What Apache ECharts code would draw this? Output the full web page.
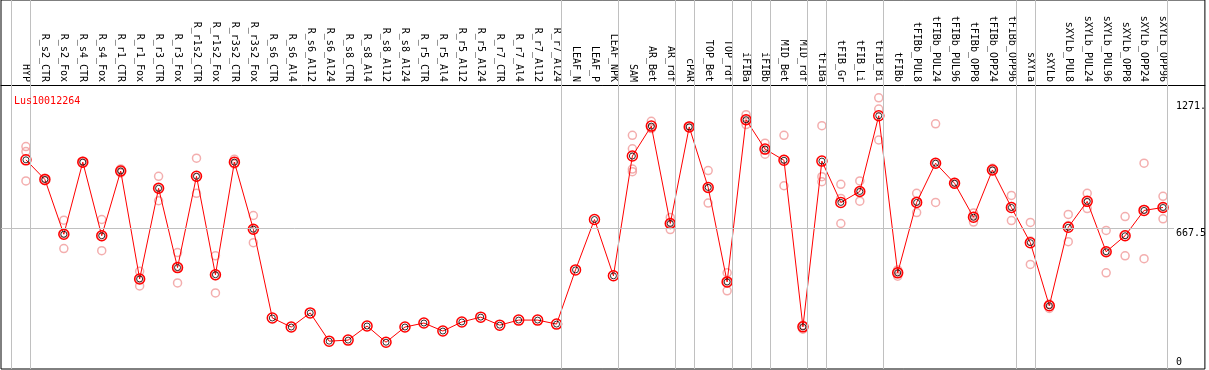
<!DOCTYPE html>
<html>
<head>
<meta charset="utf-8">
<script src="https://cdn.jsdelivr.net/npm/echarts@6/dist/echarts.min.js"></script>
<style>
html,body{margin:0;padding:0;background:#fff;}
#chart{width:1209px;height:370px;}
</style>
</head>
<body>
<div id="chart"></div>
<script>
const geneName = 'Lus10012264';
const categories = ['HYP','R_s2_CTR','R_s2_Fox','R_s4_CTR','R_s4_Fox','R_r1_CTR','R_r1_Fox','R_r3_CTR','R_r3_Fox','R_r1s2_CTR','R_r1s2_Fox','R_r3s2_CTR','R_r3s2_Fox','R_s6_CTR','R_s6_Al4','R_s6_Al12','R_s6_Al24','R_s8_CTR','R_s8_Al4','R_s8_Al12','R_s8_Al24','R_r5_CTR','R_r5_Al4','R_r5_Al12','R_r5_Al24','R_r7_CTR','R_r7_Al4','R_r7_Al12','R_r7_Al24','LEAF_N','LEAF_P','LEAF_NPK','SAM','AR_Bet','AR_rdf','cPAR','TOP_Bet','TOP_rdf','iFIBa','iFIBb','MID_Bet','MID_rdf','tFIBa','tFIB_Gr','tFIB_Li','tFIB_Bi','tFIBb','tFIBb_PUL8','tFIBb_PUL24','tFIBb_PUL96','tFIBb_OPP8','tFIBb_OPP24','tFIBb_OPP96','sXYLa','sXYLb','sXYLb_PUL8','sXYLb_PUL24','sXYLb_PUL96','sXYLb_OPP8','sXYLb_OPP24','sXYLb_OPP96'];

const means = [992,899,639,981,632,939,427,857,481,914,447,981,663,
  242,199,266,132,137,204,127,199,218,180,223,246,208,232,232,213,
  470,709,442,1010,1152,690,1148,861,413,1182,1043,990,200,986,790,842,1201,
  456,790,976,881,720,944,766,599,300,672,795,556,632,752,766];

const rep1 = [1055,905,706,985,709,949,463,914,552,1000,537,995,728,
  null,null,null,null,null,null,null,null,null,null,null,null,null,null,null,null,
  null,null,null,1108,1175,719,1152,941,456,1206,1071,1108,204,1154,876,892,1286,
  470,833,1163,885,740,952,823,695,305,733,833,657,723,976,819];
const rep2 = [892,893,571,977,561,930,394,798,408,833,361,971,599,
  null,null,null,null,null,null,null,null,null,null,null,null,null,null,null,null,
  null,null,null,948,1140,661,1144,787,371,1159,1019,869,189,888,690,796,1086,
  440,742,790,876,697,940,704,496,287,604,761,456,537,523,712];
const rep3 = [1031,899,641,981,628,938,426,858,484,909,442,976,661,
  null,null,null,null,null,null,null,null,null,null,null,null,null,null,null,null,
  null,null,null,1044,1142,690,1148,857,413,1182,1039,993,207,912,809,840,1233,
  458,795,974,882,723,941,771,607,308,680,790,557,637,757,767];
const rep4 = [null,null,null,null,null,null,null,null,null,null,null,null,null,
  null,null,null,null,null,null,null,null,null,null,null,null,null,null,null,null,
  null,null,null,936,null,null,null,null,null,null,null,null,null,null,null,null,null,
  null,null,null,null,null,null,null,null,null,null,null,null,null,null,null];

const yTickValues = [667.5, 1271];
const yTickLabels = ['667.5', '1271.'];
const separators = [-0.8,0.25,28.25,31.25,34.25,35.25,37.25,38.25,39.25,41.25,42.25,45.25,52.25,53.25,60.25];

const MONO = 'DejaVu Sans Mono';
const idx = categories.map((c, i) => i);
const meanData = means.map((v, i) => [i, v]);
const repData = [];
[rep1, rep2, rep3, rep4].forEach(arr => arr.forEach((v, i) => { if (v != null) repData.push([i, v]); }));

const XMIN = -1.3158, XMAX = 62.2105, YMAX = 1750;

const chart = echarts.init(document.getElementById('chart'), null, {renderer: 'canvas'});
chart.setOption({
  animation: false,
  backgroundColor: '#fff',
  title: {
    text: geneName, left: 9, top: 91,
    textStyle: {color: '#ff0000', fontSize: 10, fontFamily: MONO, fontWeight: 'normal'}
  },
  grid: {left: 1, right: 1, top: 0, bottom: 1, show: true, borderColor: '#000', borderWidth: 1, backgroundColor: '#fff'},
  xAxis: {
    type: 'value', min: XMIN, max: XMAX, position: 'top', offset: -85,
    axisLine: {show: true, onZero: false, lineStyle: {color: '#000', width: 1}},
    axisTick: {show: false},
    splitLine: {show: false},
    axisLabel: {
      customValues: idx, rotate: 90, margin: 3,
      formatter: v => categories[Math.round(v)],
      fontSize: 10, fontFamily: MONO, color: '#000'
    }
  },
  yAxis: [{
    type: 'value', min: 0, max: YMAX, position: 'right', z: 5,
    axisLine: {show: false}, axisTick: {show: false}, splitLine: {show: false},
    axisLabel: {
      inside: true, customValues: yTickValues, margin: 29, align: 'left', verticalAlign: 'top',
      formatter: v => yTickLabels[yTickValues.indexOf(v)],
      fontSize: 10, fontFamily: MONO, color: '#000'
    }
  }, {
    type: 'value', min: 0, max: YMAX, position: 'right', z: 5,
    axisLine: {show: false}, axisTick: {show: false}, splitLine: {show: false},
    axisLabel: {
      inside: true, customValues: [0], margin: 29, align: 'left', verticalAlign: 'bottom',
      padding: [0, 0, 2, 0],
      formatter: v => String(v),
      fontSize: 10, fontFamily: MONO, color: '#000'
    }
  }],
  series: [{
    type: 'scatter', data: [], z: 1, silent: true,
    markLine: {
      silent: true, symbol: 'none', label: {show: false},
      lineStyle: {color: '#c0c0c0', width: 1, type: 'solid'},
      data: separators.map(v => ({xAxis: v})).concat([[{coord: [XMIN, 667.5]}, {coord: [(1177 - 26) / 19, 667.5]}]])
    }
  }, {
    type: 'scatter', data: repData, z: 2, symbol: 'circle', symbolSize: 8,
    itemStyle: {color: 'rgba(0,0,0,0)', borderColor: '#f09a9a', borderWidth: 1.5}
  }, {
    type: 'line', data: meanData, z: 3, symbol: 'circle', symbolSize: 10, showSymbol: true,
    lineStyle: {color: '#ff0000', width: 1},
    itemStyle: {color: 'rgba(0,0,0,0)', borderColor: '#ff0000', borderWidth: 1.5}
  }, {
    type: 'scatter', data: meanData, z: 4, symbol: 'circle', symbolSize: 6,
    itemStyle: {color: 'rgba(0,0,0,0)', borderColor: '#000000', borderWidth: 1}
  }]
});
</script>
</body>
</html>
